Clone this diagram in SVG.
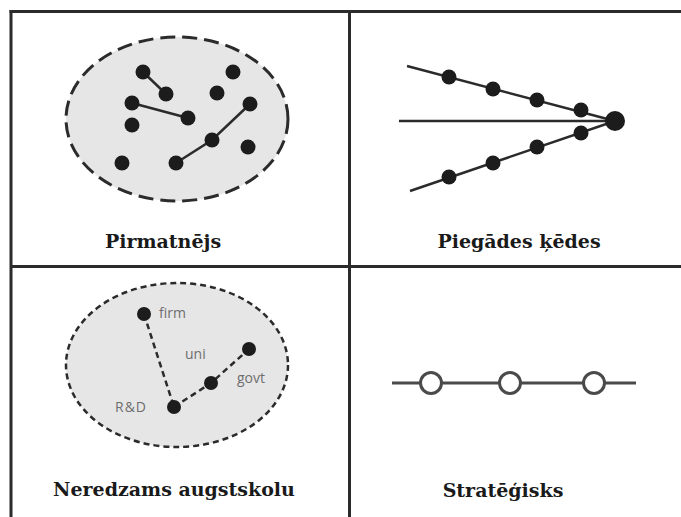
<svg xmlns="http://www.w3.org/2000/svg" width="681" height="517" viewBox="0 0 681 517">
  <defs>
    <style>
      .frame { stroke: #2b2b2b; stroke-width: 3; fill: none; }
      .link { stroke: #2b2b2b; stroke-width: 2.5; fill: none; }
      .dash { stroke: #2b2b2b; stroke-width: 2.5; fill: none; stroke-dasharray: 6 4; }
      .dot { fill: #1c1c1c; }
      .ring { fill: #ffffff; stroke: #4a4a4a; stroke-width: 3; }
      .title { font-family: "DejaVu Serif", "Liberation Serif", serif; font-weight: bold; font-size: 19px; fill: #1a1a1a; text-anchor: middle; }
      .tag { font-family: "Open Sans", "Liberation Sans", sans-serif; font-size: 14px; fill: #6e6e6e; }
    </style>
  </defs>
  <rect width="681" height="517" fill="#ffffff"/>

  <!-- panel frame -->
  <g id="frame">
    <line class="frame" x1="9.5" y1="11.5" x2="681" y2="11.5"/>
    <line class="frame" x1="11" y1="10" x2="11" y2="517"/>
    <line class="frame" x1="11" y1="266.5" x2="681" y2="266.5"/>
    <line class="frame" x1="349.5" y1="10" x2="349.5" y2="517"/>
  </g>

  <!-- top left: scattered cluster -->
  <g id="pirmatnejs">
    <ellipse cx="177" cy="119" rx="111" ry="82" fill="#e6e6e6" stroke="#2b2b2b" stroke-width="3" stroke-dasharray="15 7"/>
    <g id="pirmatnejs-links">
      <line class="link" x1="143" y1="72" x2="166" y2="94"/>
      <line class="link" x1="132" y1="103" x2="188" y2="118"/>
      <polyline class="link" points="176,163 212,140 250,104"/>
    </g>
    <g id="pirmatnejs-dots">
      <circle class="dot" cx="143" cy="72" r="7.5"/>
      <circle class="dot" cx="166" cy="94" r="7.5"/>
      <circle class="dot" cx="233" cy="72" r="7.5"/>
      <circle class="dot" cx="217" cy="93" r="7.5"/>
      <circle class="dot" cx="132" cy="103" r="7.5"/>
      <circle class="dot" cx="188" cy="118" r="7.5"/>
      <circle class="dot" cx="132" cy="125" r="7.5"/>
      <circle class="dot" cx="250" cy="104" r="7.5"/>
      <circle class="dot" cx="212" cy="140" r="7.5"/>
      <circle class="dot" cx="248" cy="147" r="7.5"/>
      <circle class="dot" cx="122" cy="163" r="7.5"/>
      <circle class="dot" cx="176" cy="163" r="7.5"/>
    </g>
    <text class="title" x="163" y="248">Pirmatnējs</text>
  </g>

  <!-- top right: converging chains -->
  <g id="piegades-kedes">
    <g id="chain-links">
      <line class="link" x1="407" y1="66" x2="615" y2="121"/>
      <line class="link" x1="399" y1="121" x2="615" y2="121"/>
      <line class="link" x1="410" y1="191" x2="615" y2="121"/>
    </g>
    <g id="chain-dots">
      <circle class="dot" cx="449" cy="77" r="7.5"/>
      <circle class="dot" cx="493" cy="89" r="7.5"/>
      <circle class="dot" cx="537" cy="100" r="7.5"/>
      <circle class="dot" cx="581" cy="110" r="7.5"/>
      <circle class="dot" cx="449" cy="177" r="7.5"/>
      <circle class="dot" cx="493" cy="163" r="7.5"/>
      <circle class="dot" cx="537" cy="147" r="7.5"/>
      <circle class="dot" cx="581" cy="133" r="7.5"/>
      <circle class="dot" cx="615" cy="121" r="10"/>
    </g>
    <text class="title" x="519" y="248">Piegādes ķēdes</text>
  </g>

  <!-- bottom left: hidden university network -->
  <g id="neredzams">
    <ellipse cx="177" cy="365" rx="111" ry="82" fill="#e6e6e6" stroke="#2b2b2b" stroke-width="2.5" stroke-dasharray="6 4"/>
    <g id="neredzams-links">
      <line class="dash" x1="144" y1="314" x2="174" y2="407"/>
      <polyline class="dash" points="174,407 211,383 249,349"/>
    </g>
    <g id="neredzams-dots">
      <circle class="dot" cx="144" cy="314" r="7"/>
      <circle class="dot" cx="249" cy="349" r="7"/>
      <circle class="dot" cx="211" cy="383" r="7"/>
      <circle class="dot" cx="174" cy="407" r="7"/>
    </g>
    <text class="tag" x="159" y="318">firm</text>
    <text class="tag" x="185" y="359">uni</text>
    <text class="tag" x="237" y="383">govt</text>
    <text class="tag" x="115" y="412" letter-spacing="1">R&amp;D</text>
    <text class="title" x="174" y="496">Neredzams augstskolu</text>
  </g>

  <!-- bottom right: strategic line -->
  <g id="strategisks">
    <line x1="392" y1="383" x2="636" y2="383" stroke="#4a4a4a" stroke-width="3"/>
    <circle class="ring" cx="431" cy="383" r="10.5"/>
    <circle class="ring" cx="510" cy="383" r="10.5"/>
    <circle class="ring" cx="594" cy="383" r="10.5"/>
    <text class="title" x="503" y="497">Stratēģisks</text>
  </g>
</svg>
